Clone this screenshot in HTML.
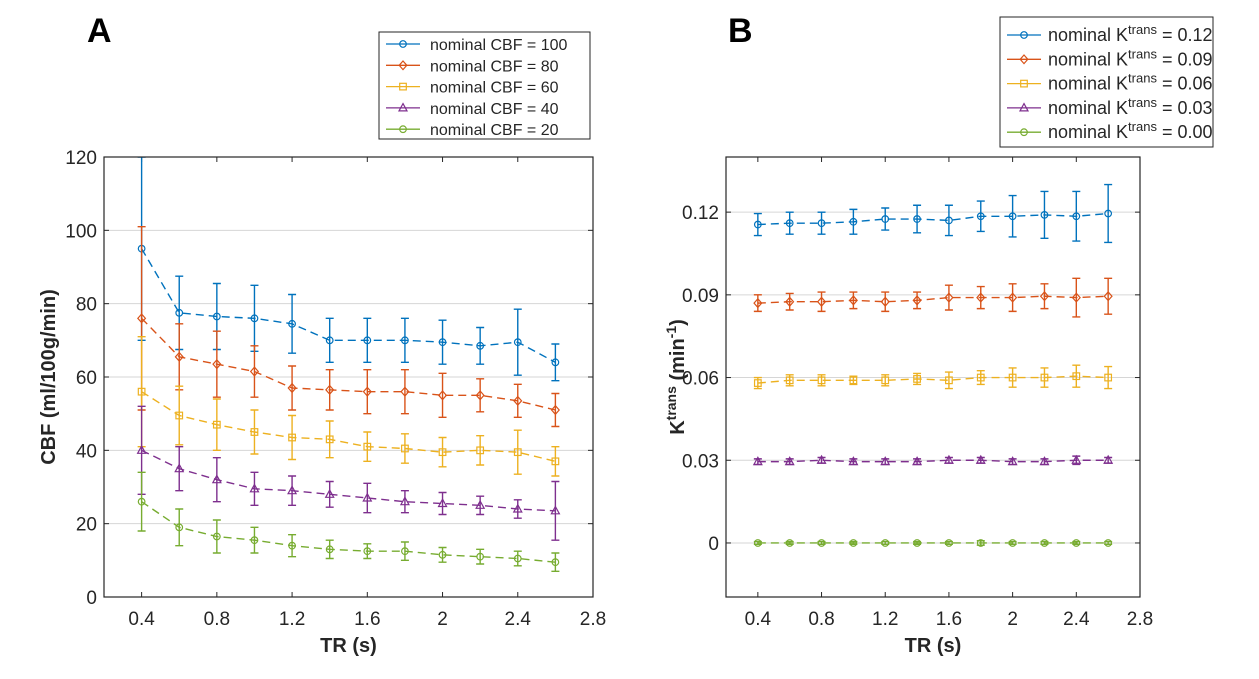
<!DOCTYPE html>
<html><head><meta charset="utf-8">
<style>
html,body{margin:0;padding:0;background:#fff;width:1259px;height:679px;overflow:hidden}
svg{display:block;font-family:"Liberation Sans",Arial,sans-serif}
</style></head>
<body>
<svg id="fig" width="1259" height="679" viewBox="0 0 1259 679" xmlns="http://www.w3.org/2000/svg"></svg>
<script>
const trValues=[0.4,0.6,0.8,1.0,1.2,1.4,1.6,1.8,2.0,2.2,2.4,2.6];
const xTicks=[0.4,0.8,1.2,1.6,2,2.4,2.8];
const colors=['#0072BD','#D95319','#EDB120','#7E2F8E','#77AC30'];
const markers=['o','d','s','t','o'];
// Panel A
const cbfLabels=['nominal CBF = 100','nominal CBF = 80','nominal CBF = 60','nominal CBF = 40','nominal CBF = 20'];
const cbf100=[95,77.5,76.5,76,74.5,70,70,70,69.5,68.5,69.5,64];
const cbf80=[76,65.5,63.5,61.5,57,56.5,56,56,55,55,53.5,51];
const cbf60=[56,49.5,47,45,43.5,43,41,40.5,39.5,40,39.5,37];
const cbf40=[40,35,32,29.5,29,28,27,26,25.5,25,24,23.5];
const cbf20=[26,19,16.5,15.5,14,13,12.5,12.5,11.5,11,10.5,9.5];
const cbf100Err=[25,10,9,9,8,6,6,6,6,5,9,5];
const cbf80Err=[25,9,9,7,6,5.5,6,6,6,4.5,4.5,4.5];
const cbf60Err=[15,8,7,6,6,5,4,4,4,4,6,4];
const cbf40Err=[12,6,6,4.5,4,3.5,4,3,3,2.5,2.5,8];
const cbf20Err=[8,5,4.5,3.5,3,2.5,2,2.5,2,2,2,2.5];
const cbfTicks=[0,20,40,60,80,100,120];
// Panel B
const kLabels=['0.12','0.09','0.06','0.03','0.00'];
const k12=[0.1155,0.116,0.116,0.1165,0.1175,0.1175,0.117,0.1185,0.1185,0.119,0.1185,0.1195];
const k09=[0.087,0.0875,0.0875,0.088,0.0875,0.088,0.089,0.089,0.089,0.0895,0.089,0.0895];
const k06=[0.058,0.059,0.059,0.059,0.059,0.0595,0.059,0.060,0.060,0.060,0.0605,0.060];
const k03=[0.0295,0.0295,0.03,0.0295,0.0295,0.0295,0.03,0.03,0.0295,0.0295,0.03,0.03];
const k00=[0,0,0,0,0,0,0,0,0,0,0,0];
const k12Err=[0.004,0.004,0.004,0.0045,0.004,0.005,0.0055,0.0055,0.0075,0.0085,0.009,0.0105];
const k09Err=[0.003,0.003,0.0035,0.003,0.0035,0.003,0.0045,0.004,0.005,0.0045,0.007,0.0065];
const k06Err=[0.002,0.002,0.002,0.0015,0.002,0.002,0.003,0.0025,0.0035,0.0035,0.004,0.004];
const k03Err=[0.001,0.001,0.001,0.001,0.001,0.001,0.001,0.001,0.001,0.001,0.0015,0.001];
const k00Err=[0.0005,0.0005,0.0005,0.0005,0.0005,0.0005,0.0005,0.0008,0.0005,0.0005,0.0005,0.0005];
const kTicks=[0,0.03,0.06,0.09,0.12];
const kTickLabels=['0','0.03','0.06','0.09','0.12'];

const NS='http://www.w3.org/2000/svg';
const svg=document.getElementById('fig');
function el(tag,attrs,parent,text){const e=document.createElementNS(NS,tag);for(const k in attrs)e.setAttribute(k,attrs[k]);if(text!==undefined)e.textContent=text;(parent||svg).appendChild(e);return e;}

function marker(g,type,cx,cy,c){
  let m;
  if(type==='o') m=el('circle',{cx,cy,r:3.3,fill:'none',stroke:c,'stroke-width':1.2},g);
  else if(type==='d') m=el('polygon',{points:`${cx},${cy-4.3} ${cx+3.8},${cy} ${cx},${cy+4.3} ${cx-3.8},${cy}`,fill:'none',stroke:c,'stroke-width':1.2},g);
  else if(type==='s') m=el('rect',{x:cx-3.3,y:cy-3.3,width:6.6,height:6.6,fill:'none',stroke:c,'stroke-width':1.2},g);
  else m=el('polygon',{points:`${cx},${cy-4.3} ${cx+4},${cy+3} ${cx-4},${cy+3}`,fill:'none',stroke:c,'stroke-width':1.2},g);
  return m;
}

function panel(cfg){
  const {L,T,R,B,ymin,ymax,yticks,yticklabels,series,errs,name}=cfg;
  const g=el('g',{});
  
  
  const xs=v=>L+(v-0.2)/(2.8-0.2)*(R-L);
  const ys=v=>B-(v-ymin)/(ymax-ymin)*(B-T);
  yticks.forEach((t,i)=>{
    const y=ys(t);
    const gl=el('line',{x1:L,x2:R,y1:y,y2:y,stroke:'#d6d6d6','stroke-width':1},g);
    
    
    el('line',{x1:L,x2:L+5,y1:y,y2:y,stroke:'#262626'},g);
    el('line',{x1:R-5,x2:R,y1:y,y2:y,stroke:'#262626'},g);
    const tl=el('text',{x:L-7,y:y+7,'text-anchor':'end','font-size':19,fill:'#262626'},g,yticklabels[i]);
    
    
  });
  xTicks.forEach(t=>{
    const x=xs(t);
    el('line',{x1:x,x2:x,y1:B,y2:B-5,stroke:'#262626'},g);
    el('line',{x1:x,x2:x,y1:T,y2:T+5,stroke:'#262626'},g);
    const tl=el('text',{x:x,y:B+28,'text-anchor':'middle','font-size':19,fill:'#262626'},g,String(t));
    
    
  });
  const clip=el('clipPath',{id:name+'-clip'},g);
  el('rect',{x:L,y:T,width:R-L,height:B-T},clip);
  const pg=el('g',{'clip-path':`url(#${name}-clip)`},g);
  series.forEach((s,si)=>{
    const c=colors[si];
    const sg=el('g',{},pg);
    
    
    const pts=s.map((v,i)=>xs(trValues[i])+','+ys(v)).join(' ');
    el('polyline',{points:pts,fill:'none',stroke:c,'stroke-width':1.4,'stroke-dasharray':'8,5'},sg);
    s.forEach((v,i)=>{
      const x=xs(trValues[i]),e=errs[si][i];
      const y1=ys(v+e),y2=ys(v-e);
      const eb=el('path',{d:`M${x},${y1}V${y2}M${x-4},${y1}H${x+4}M${x-4},${y2}H${x+4}`,stroke:c,'stroke-width':1.4,fill:'none'},sg);
      
      
      const m=marker(sg,markers[si],x,ys(v),c);
      
      
    });
  });
  const box=el('rect',{x:L,y:T,width:R-L,height:B-T,fill:'none',stroke:'#262626','stroke-width':1.2},g);
  
  
  const xl=el('text',{x:(L+R)/2,y:B+55,'text-anchor':'middle','font-size':20,'font-weight':'bold',fill:'#262626'},g,'TR (s)');
  
  
  return g;
}

panel({name:'panel-a',L:104,T:157,R:593,B:597,ymin:0,ymax:120,yticks:cbfTicks,yticklabels:cbfTicks.map(String),
  series:[cbf100,cbf80,cbf60,cbf40,cbf20],errs:[cbf100Err,cbf80Err,cbf60Err,cbf40Err,cbf20Err]});
panel({name:'panel-b',L:726,T:157,R:1140,B:597,ymin:-0.0196,ymax:0.14,yticks:kTicks,yticklabels:kTickLabels,
  series:[k12,k09,k06,k03,k00],errs:[k12Err,k09Err,k06Err,k03Err,k00Err]});

let t=el('text',{transform:'translate(55,377) rotate(-90)','text-anchor':'middle','font-size':20,'font-weight':'bold',fill:'#262626'},svg,'CBF (ml/100g/min)');


t=el('text',{transform:'translate(684,377) rotate(-90)','text-anchor':'middle','font-size':20,'font-weight':'bold',fill:'#262626'},svg);


el('tspan',{},t,'K');
el('tspan',{dy:-8,'font-size':14},t,'trans');
el('tspan',{dy:8},t,' (min');
el('tspan',{dy:-8,'font-size':14},t,'-1');
el('tspan',{dy:8},t,')');

t=el('text',{x:87,y:42,'font-size':34,'font-weight':'bold',fill:'#000'},svg,'A');


t=el('text',{x:728,y:42,'font-size':34,'font-weight':'bold',fill:'#000'},svg,'B');



function legend(name,x,y,w,h,rowY,gap,textX,labels,isK){
  const g=el('g',{});
  
  
  el('rect',{x,y,width:w,height:h,fill:'#fff',stroke:'#262626','stroke-width':1},g);
  labels.forEach((lab,i)=>{
    const cy=rowY+i*gap,c=colors[i];
    const eg=el('g',{},g);
    
    
    el('line',{x1:x+7,x2:x+41,y1:cy,y2:cy,stroke:c,'stroke-width':1.3},eg);
    marker(eg,markers[i],x+24,cy,c);
    const tx=el('text',{x:textX,y:cy+6,'font-size':isK?18:16,fill:'#262626'},eg);
    if(isK){
      el('tspan',{},tx,'nominal K');
      el('tspan',{dy:-7,'font-size':13},tx,'trans');
      el('tspan',{dy:7},tx,' = '+lab);
    } else tx.textContent=lab;
  });
}
legend('legend-a',379,32,211,107,44,21.3,430,cbfLabels,false);
legend('legend-b',1000,17,213,130,35,24.3,1048,kLabels,true);
</script>
</body></html>
